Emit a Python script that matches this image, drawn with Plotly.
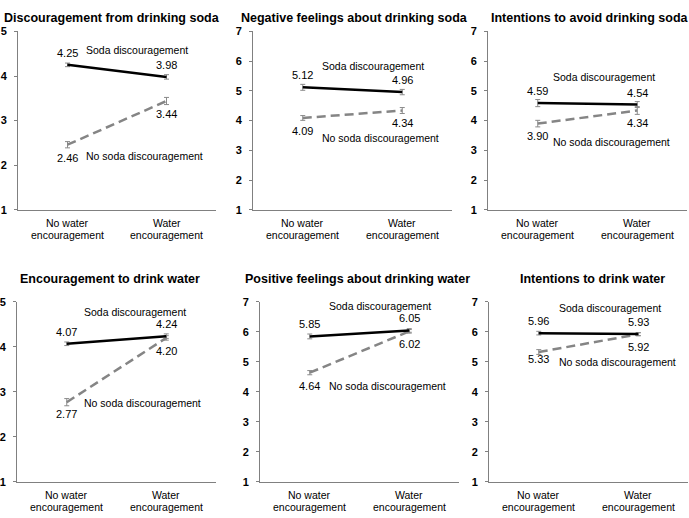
import plotly.graph_objects as go

W, H = 689, 518

titles = [
    "Discouragement from drinking soda",
    "Negative feelings about drinking soda",
    "Intentions to avoid drinking soda",
    "Encouragement to drink water",
    "Positive feelings about drinking water",
    "Intentions to drink water",
]
categories = ["No water<br>encouragement", "Water<br>encouragement"]
soda = [[4.25, 3.98], [5.12, 4.96], [4.59, 4.54], [4.07, 4.24], [5.85, 6.05], [5.96, 5.93]]
no_soda = [[2.46, 3.44], [4.09, 4.34], [3.90, 4.34], [2.77, 4.20], [4.64, 6.02], [5.33, 5.92]]
soda_err = [[0.04, 0.05], [0.10, 0.09], [0.12, 0.10], [0.04, 0.05], [0.08, 0.06], [0.06, 0.05]]
no_soda_err = [[0.07, 0.08], [0.08, 0.10], [0.11, 0.13], [0.08, 0.05], [0.07, 0.06], [0.08, 0.05]]
y_max = [5, 7, 7, 5, 7, 7]
series_names = ["Soda discouragement", "No soda discouragement"]

# layout (pixels)
x_dom_px = [(18, 216), (253, 452), (488, 687), (17, 216), (260, 459), (489, 688)]
y_dom_px = [(26, 208.7)] * 3 + [(303, 487)] * 3
title_px = [(111.5, 12), (354, 12), (590, 12), (110, 279), (357, 279), (592, 279)]
series_lbl_pos = [
    ((0.17, 4.58), (0.17, 2.21)),
    ((0.17, 5.82), (0.17, 3.43)),
    ((0.136, 5.46), (0.136, 3.28)),
    ((0.15, 4.77), (0.15, 2.76)),
    ((0.17, 6.88), (0.17, 4.21)),
    ((0.18, 6.79), (0.18, 5.01)),
]
below_shift = [[-13, -13], [-13, -12], [-12, -12], [-12, -13], [-13, -13], [-7, -13]]
cat_line_shift = [-13.5, -25]

FONT = "Liberation Sans, Arial, sans-serif"
AXIS_COL = "#808080"

fig = go.Figure()
layout = dict(
    width=W, height=H, margin=dict(l=0, r=0, t=0, b=0),
    paper_bgcolor="white", plot_bgcolor="white", showlegend=False,
    font=dict(family=FONT, size=10.5, color="black"),
)
annotations = []
xs = [0, 1]

for i in range(6):
    n = "" if i == 0 else str(i + 1)
    xa, ya = "x" + n, "y" + n
    x0, x1 = x_dom_px[i]
    y0, y1 = y_dom_px[i]
    layout["xaxis" + n] = dict(
        domain=[x0 / W, x1 / W], anchor=ya, range=[-0.5, 1.5],
        tickvals=xs, showticklabels=False, showgrid=False, zeroline=False,
        showline=True, linecolor=AXIS_COL, linewidth=1, ticks="",
        fixedrange=True,
    )
    layout["yaxis" + n] = dict(
        domain=[1 - y1 / H, 1 - y0 / H], anchor=xa, range=[1, y_max[i]],
        dtick=1, showgrid=False, zeroline=False, showline=True,
        linecolor=AXIS_COL, linewidth=1, ticks="outside", ticklen=3,
        tickcolor=AXIS_COL, tickfont=dict(size=11, color="black", weight="bold"),
        ticklabelstandoff=5, fixedrange=True,
    )
    fig.add_trace(go.Scatter(
        x=xs, y=no_soda[i], xaxis=xa, yaxis=ya, mode="lines",
        line=dict(color="#858585", width=2.5, dash="9px,5px"),
        error_y=dict(type="data", array=no_soda_err[i], color="#8a8a8a",
                     thickness=1, width=2.5),
    ))
    fig.add_trace(go.Scatter(
        x=xs, y=soda[i], xaxis=xa, yaxis=ya, mode="lines",
        line=dict(color="black", width=2.5),
        error_y=dict(type="data", array=soda_err[i], color="#8a8a8a",
                     thickness=1, width=2.5),
    ))
    # category labels (two tight lines)
    for j in range(2):
        for li, line_text in enumerate(categories[j].split("<br>")):
            annotations.append(dict(
                x=xs[j], y=0, xref=xa, yref=ya + " domain", text=line_text,
                showarrow=False, xanchor="center", yanchor="middle",
                yshift=cat_line_shift[li], font=dict(size=10.5)))
    for j in range(2):
        annotations.append(dict(
            x=xs[j], y=soda[i][j], xref=xa, yref=ya, text=f"{soda[i][j]:.2f}",
            showarrow=False, yshift=12, font=dict(size=11)))
        annotations.append(dict(
            x=xs[j], y=no_soda[i][j], xref=xa, yref=ya, text=f"{no_soda[i][j]:.2f}",
            showarrow=False, yshift=below_shift[i][j], font=dict(size=11)))
    for k in range(2):
        lx, ly = series_lbl_pos[i][k]
        annotations.append(dict(
            x=lx, y=ly, xref=xa, yref=ya, text=series_names[k], showarrow=False,
            xanchor="left", yanchor="middle", font=dict(size=10.5)))
    tx, ty = title_px[i]
    annotations.append(dict(
        x=tx / W, y=1 - ty / H, xref="paper", yref="paper", text=f"<b>{titles[i]}</b>",
        showarrow=False, xanchor="center", yanchor="middle", font=dict(size=12.5)))

layout["annotations"] = annotations
fig.update_layout(**layout)
fig.write_html(
    "out.html",
    config={"displayModeBar": False, "staticPlot": True},
    post_script="document.body.style.margin='0';document.body.style.overflow='hidden';",
)
